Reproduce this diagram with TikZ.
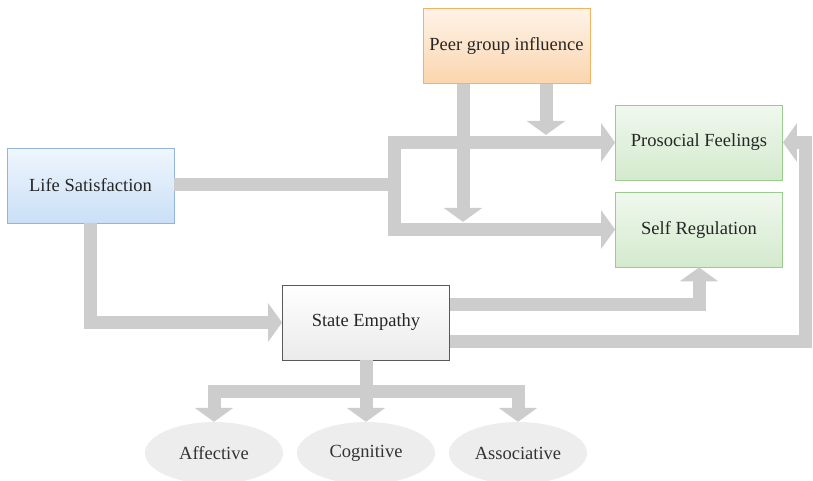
\documentclass[tikz,border=0pt]{standalone}
\usepackage{fontspec}
\setmainfont{Liberation Serif}
\usetikzlibrary{arrows.meta,shapes.geometric}
\definecolor{bargray}{HTML}{CDCDCD}
\definecolor{peerline}{HTML}{F2B463}
\definecolor{peertop}{HTML}{FEF3E8}
\definecolor{peerbottom}{HTML}{FBD5AE}
\definecolor{greenline}{HTML}{9CCB8F}
\definecolor{greentop}{HTML}{F0F8EE}
\definecolor{greenbottom}{HTML}{D3EACD}
\definecolor{blueline}{HTML}{92B5DF}
\definecolor{bluetop}{HTML}{EFF6FD}
\definecolor{bluebottom}{HTML}{CADFF6}
\begin{document}
\begin{tikzpicture}[x=1pt,y=-1pt,
        box/.style={minimum width=167pt,minimum height=75pt,line width=0.8pt,text=black!85,font=\fontsize{18.5}{22}\selectfont},
        facet/.style={ellipse,minimum width=138pt,minimum height=62pt,fill=black!7,text=black!80,font=\fontsize{18.5}{22}\selectfont},
        bar/.style={draw=bargray,line width=13pt,line join=miter},
        bararrow/.style={bar,-{Triangle[width=38pt,length=14pt]}}
    ]
    \useasboundingbox (0,0) rectangle (813,480);

    % boxes
    \node (peer) at (506.5,46) [box,draw=peerline,top color=peertop,bottom color=peerbottom] {Peer group influence};
    \node (prosocial) at (699,142.5) [box,draw=greenline,top color=greentop,bottom color=greenbottom] {Prosocial Feelings};
    \node (selfreg) at (699,229.5) [box,draw=greenline,top color=greentop,bottom color=greenbottom] {Self Regulation};
    \node (life) at (90.5,185.5) [box,draw=blueline,top color=bluetop,bottom color=bluebottom] {Life Satisfaction};
    \node (empathy) at (366,322.5) [box,draw=black!65,top color=white,bottom color=black!8] {State Empathy};

    \node (affective) at (214,453) [facet] {Affective};
    \node (cognitive) at (366,453) [facet] {Cognitive};
    \node (associative) at (518,453) [facet] {Associative};

    % connectors
    \coordinate (split) at (394,184.5);
    \coordinate (turn) at (805,341);
    \coordinate (hub) at (366,391);

    \draw[bar] (life.east |- split) -- (split);
    \draw[bararrow] (split) |- (prosocial.west);
    \draw[bararrow] (split) |- (selfreg.west);
    \draw[bararrow] ([xshift=-43.5pt]peer.south) -- ++(0,138);
    \draw[bararrow] ([xshift=39.5pt]peer.south) -- ++(0,51);
    \draw[bararrow] (life.south) |- (empathy.west);
    \draw[bararrow] ([yshift=18.5pt]empathy.east) -| (selfreg.south);
    \draw[bararrow] ([yshift=-18.5pt]empathy.east) -- (turn) |- (prosocial.east);
    \draw[bararrow] (empathy.south) -- (hub) -| (affective.north);
    \draw[bararrow] (empathy.south) -- (hub) -| (associative.north);
    \draw[bararrow] (empathy.south) -- (cognitive.north);
\end{tikzpicture}
\end{document}
